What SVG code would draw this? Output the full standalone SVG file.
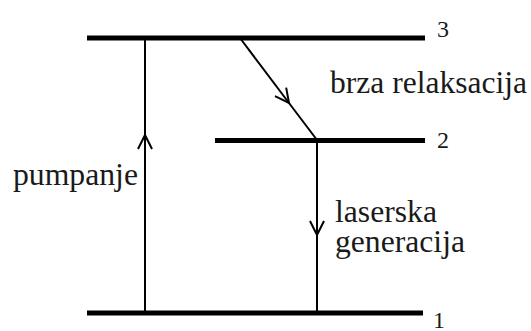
<svg xmlns="http://www.w3.org/2000/svg" width="531" height="331" viewBox="0 0 531 331">
<defs>
<style>
.level{stroke:#000;stroke-width:5;fill:none}
.tr{stroke:#000;stroke-width:2;fill:none}
</style>
<marker id="open" markerUnits="userSpaceOnUse" viewBox="-16 -10 20 20" markerWidth="20" markerHeight="20" refX="0" refY="0" orient="auto">
<path d="M-14,-7 L0,0 L-14,7" fill="none" stroke="#000" stroke-width="2"/>
</marker>
</defs>
<rect width="531" height="331" fill="#fff"/>
<g id="level3">
<line class="level" x1="87" y1="38" x2="425" y2="38"/>
<text x="437" y="37" font-family="Liberation Serif, Times New Roman, serif" font-size="24" fill="#1a1a1a">3</text>
</g>
<g id="level2">
<line class="level" x1="215" y1="140.5" x2="425" y2="140.5"/>
<text x="437" y="148" font-family="Liberation Serif, Times New Roman, serif" font-size="24" fill="#1a1a1a">2</text>
</g>
<g id="level1">
<line class="level" x1="87" y1="313" x2="423" y2="313"/>
<text x="433" y="328" font-family="Liberation Serif, Times New Roman, serif" font-size="24" fill="#1a1a1a">1</text>
</g>
<g id="connectors">
<line class="tr" x1="145" y1="313" x2="145" y2="135" marker-end="url(#open)"/>
<line class="tr" x1="145" y1="135" x2="145" y2="38"/>
<line class="tr" x1="240" y1="38" x2="289" y2="103" marker-end="url(#open)"/>
<line class="tr" x1="289" y1="103" x2="317" y2="140"/>
<line class="tr" x1="317" y1="140" x2="317" y2="235" marker-end="url(#open)"/>
<line class="tr" x1="317" y1="235" x2="317" y2="313"/>
</g>
<g id="labels" font-family="Liberation Serif, Times New Roman, serif" font-size="31" fill="#1a1a1a">
<text x="13" y="185" textLength="125" lengthAdjust="spacingAndGlyphs">pumpanje</text>
<text x="330" y="93" textLength="197" lengthAdjust="spacingAndGlyphs">brza relaksacija</text>
<text x="335" y="222" textLength="102" lengthAdjust="spacingAndGlyphs">laserska</text>
<text x="335" y="252" textLength="130" lengthAdjust="spacingAndGlyphs">generacija</text>
</g>
</svg>
